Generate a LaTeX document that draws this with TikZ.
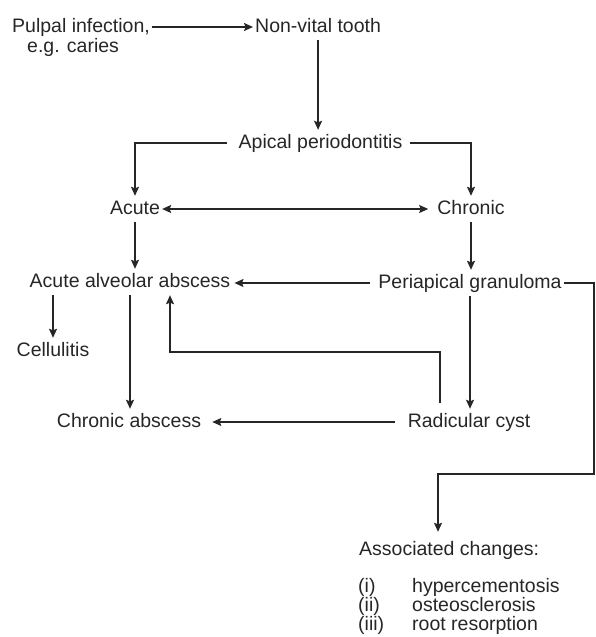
\documentclass[tikz,border=0pt]{standalone}
\usepackage{fontspec}
\setmainfont{Liberation Sans}
\usepackage{tikz}
\usetikzlibrary{arrows.meta, calc}

\tikzset{
  lbl/.style = {inner xsep = 2pt, inner ysep = 4pt, text height = 14pt, text depth = 4pt,
                font = \fontsize{19.5}{22}\selectfont, text = black!85},
  hd/.tip = {Stealth[length = 9pt, width = 8pt, inset = 1.5pt]},
  arr/.style = {draw = black!85, line width = 1.3pt, -hd},
  ln/.style = {draw = black!85, line width = 1.3pt}
}

\begin{document}
\begin{tikzpicture}[x = 1pt, y = -1pt]
\useasboundingbox (0, 0) rectangle (596, 637);

% top row
\node[lbl, anchor = west] (pulpal) at (10, 27) {Pulpal infection,};
\node[lbl, anchor = west] (caries) at (25, 47) {e.g. caries};
\node[lbl, anchor = west] (nonvital) at (253, 27) {Non-vital tooth};
\node[lbl] (apical) at (320.5, 143) {Apical periodontitis};

% two branches
\node[lbl] (acute) at (135, 209) {Acute};
\node[lbl] (chronic) at (471, 209) {Chronic};
\node[lbl] (alveolar) at (130, 282) {Acute alveolar abscess};
\node[lbl] (granuloma) at (470, 283) {Periapical granuloma};
\node[lbl] (cellulitis) at (53, 351) {Cellulitis};
\node[lbl] (chronicabs) at (129, 422) {Chronic abscess};
\node[lbl] (cyst) at (469, 422) {Radicular cyst};

% associated changes
\node[lbl, anchor = west] (assoc) at (357, 550) {Associated changes:};
\node[lbl, anchor = west, text height = 12pt, text depth = 3pt, inner ysep = 1pt] (itemi) at (356, 588) {\makebox[54pt][l]{(i)}hypercementosis};
\node[lbl, anchor = west, text height = 12pt, text depth = 3pt, inner ysep = 1pt] (itemii) at (356, 607) {\makebox[54pt][l]{(ii)}osteosclerosis};
\node[lbl, anchor = west, text height = 12pt, text depth = 3pt, inner ysep = 1pt] (itemiii) at (356, 626) {\makebox[54pt][l]{(iii)}root resorption};

\coordinate (retR) at (440, 352);
\coordinate (retL) at (170, 352);
\coordinate (sideR) at (594, 474);
\coordinate (sideL) at (438, 474);

\draw[arr] (pulpal) -- (nonvital);
\draw[arr] (nonvital.south) -- (nonvital.south |- apical.north);
\draw[arr, shorten <= 9pt] (apical.west) -| (acute.north);
\draw[arr, shorten <= 5pt] (apical.east) -| (chronic.north);
\draw[ln, hd-hd, shorten >= 7pt] (acute) -- (chronic);
\draw[arr] (acute.south) -- (acute.south |- alveolar.north);
\draw[arr] (chronic.south) -- (chronic.south |- granuloma.north);
\draw[arr, shorten <= 6pt, shorten >= 2pt] (granuloma.west) -- (alveolar.east |- granuloma.west);
\draw[arr] (cellulitis.north |- alveolar.south) -- (cellulitis.north);
\draw[arr] (alveolar.south) -- (alveolar.south |- chronicabs.north);
\draw[arr] (granuloma.south) -- (granuloma.south |- cyst.north);
\draw[arr, shorten <= 11pt, shorten >= 9pt] (cyst.west) -- (chronicabs.east |- cyst.west);
\draw[arr, shorten <= 6pt] (retR |- cyst.north) -- (retR) -- (retL) -- (retL |- alveolar.south);
\draw[arr, shorten >= 5pt] (granuloma.east) -- (granuloma.east -| sideR) -- (sideR) -- (sideL) -- (sideL |- assoc.north);
\end{tikzpicture}
\end{document}
